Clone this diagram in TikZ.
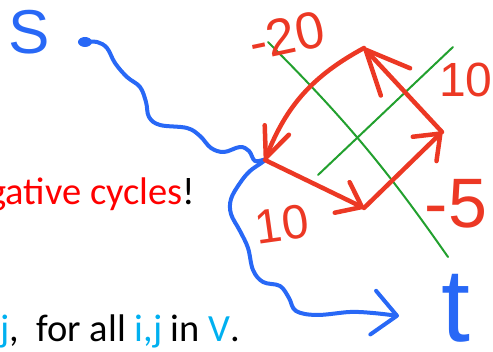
\documentclass[tikz,border=0pt]{standalone}
\usepackage{fontspec}
\setmainfont{Carlito}
\newfontfamily\handfont{Liberation Sans}
\usetikzlibrary{arrows.meta}
\definecolor{penred}{RGB}{236,56,36}
\definecolor{penblue}{RGB}{40,104,246}
\definecolor{pengreen}{RGB}{34,160,46}
\definecolor{slideblue}{RGB}{0,176,240}
\definecolor{slidered}{RGB}{255,0,0}

\begin{document}
\begin{tikzpicture}[
  x=1pt, y=-1pt,
  ink/.style={line cap=round, line join=round},
  redpen/.style={ink, draw=penred, line width=4.5pt},
  bluepen/.style={ink, draw=penblue, line width=4pt},
  greenpen/.style={ink, draw=pengreen, line width=2pt},
  barb/.style args={#1/#2}{-{Straight Barb[length=#1pt, width=#2pt, round]}},
  weight/.style={text=penred, inner sep=0pt, font=\handfont\fontsize{#1}{#1}\selectfont},
  letter/.style={text=penblue, inner sep=0pt, font=\handfont\fontsize{#1}{#1}\selectfont},
  slide/.style={anchor=base west, inner sep=0pt, font=\fontsize{38.5}{44}\selectfont}
]
\useasboundingbox (0,0) rectangle (493,352);
\clip (0,0) rectangle (493,352);

\node[slide, text=slidered] (negcyc) at (-12,205) {gative cycles\textcolor{black}{!}};
\node[slide] (forall) at (0,342)
  {\textcolor{slideblue}{j},\ \ for all \textcolor{slideblue}{i,j} in \textcolor{slideblue}{V}.};

\coordinate (vtop) at (364,48);
\coordinate (vleft) at (265,160);
\coordinate (vbot) at (364,208);
\coordinate (vright) at (442,132);

\coordinate (ga1) at (268,42);
\coordinate (ga2) at (448,257);
\coordinate (gb1) at (318,175);
\coordinate (gb2) at (453,47);
\draw[greenpen] (ga1) to[bend left=5] (ga2);
\draw[greenpen] (gb1) -- (gb2);

\node[letter=62] (s) at (29,32) {S};
\node[letter=104] (t) at (456,308) {t};
\coordinate (sdot) at (85,42);
\coordinate (tin) at (399,316);
\fill[penblue] (sdot) ellipse (7pt and 5pt);
\draw[bluepen, barb=24/44] plot[smooth, tension=0.6] coordinates {(sdot) (97,42) (107,48)
  (115,63) (127,77) (140,87) (146,102) (149,117) (160,125) (187,128) (200,136) (211,148)
  (224,152) (240,147) (249,151) (255,161) (vleft) (250,171) (240,183) (231,199) (231,214)
  (240,231) (248,248) (253,270) (263,282) (280,286) (289,298) (296,311) (317,315)
  (350,312) (373,313) (tin)};

\draw[redpen, barb=30/26] (vtop) to[bend right=20] (vleft);
\draw[redpen, barb=22/34] (vleft) -- (vbot);
\draw[redpen, barb=22/34] (vbot) -- (vright);
\draw[redpen, barb=44/40] (vright) -- (vtop);

\node[weight=52, rotate=12] (wtop) at (287,36) {-20};
\node[weight=48] (wright) at (466,80) {10};
\node[weight=48, rotate=8] (wleft) at (282,224) {10};
\node[weight=70] (wbot) at (456,204) {-5};

\end{tikzpicture}
\end{document}
